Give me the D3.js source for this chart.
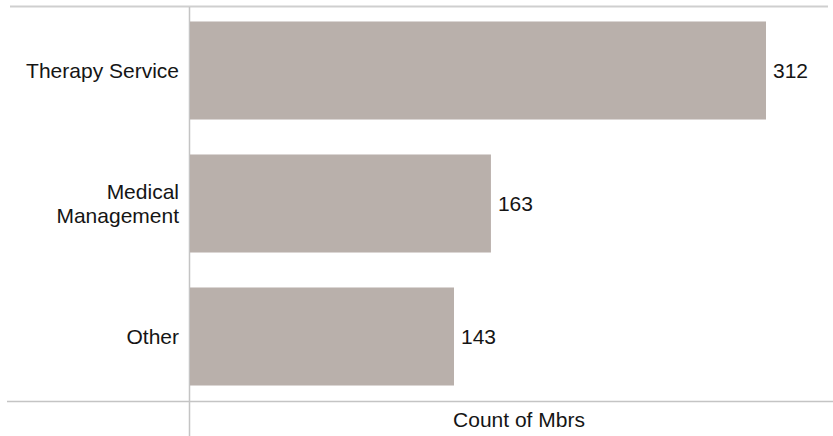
<!DOCTYPE html>
<html><head><meta charset="utf-8">
<script src="https://cdn.jsdelivr.net/npm/d3@7"></script>
<style>body{margin:0;background:#fff;} text{font-family:"Liberation Sans",Arial,sans-serif;}</style>
</head><body>
<script>
const categories = [["Therapy Service"], ["Medical", "Management"], ["Other"]];
const values = [312, 163, 143];
const axisTitle = "Count of Mbrs";

const W = 833, H = 436;
const svg = d3.select("body").append("svg").attr("width", W).attr("height", H);

const x0 = 190;
const x = d3.scaleLinear().domain([0, 312]).range([x0, 766]);
const y = d3.scaleBand().domain(d3.range(categories.length)).range([4, 403])
  .paddingInner(0.263).paddingOuter(0.1315);

// frame lines
svg.append("line").attr("x1", 10).attr("x2", 828).attr("y1", 6.5).attr("y2", 6.5)
  .attr("stroke", "#cfcfcf").attr("stroke-width", 2);
svg.append("line").attr("x1", 7).attr("x2", 833).attr("y1", 401.5).attr("y2", 401.5)
  .attr("stroke", "#c4c4c4").attr("stroke-width", 1.5);
svg.append("line").attr("x1", 189.5).attr("x2", 189.5).attr("y1", 7).attr("y2", 436)
  .attr("stroke", "#c4c4c4").attr("stroke-width", 1.5);

// bars
svg.selectAll("rect.bar").data(values).join("rect").attr("class", "bar")
  .attr("x", x(0)).attr("y", (d, i) => y(i))
  .attr("width", d => x(d) - x(0)).attr("height", y.bandwidth())
  .attr("fill", "#b9b0ab");

const fs = 21, fill = "#151515";

// value labels
svg.selectAll("text.val").data(values).join("text").attr("class", "val")
  .attr("x", d => x(d) + 7).attr("y", (d, i) => y(i) + y.bandwidth() / 2)
  .attr("dy", "0.35em").attr("font-size", fs).attr("fill", fill)
  .text(d => d);

// category labels
const lh = 24;
categories.forEach((lines, i) => {
  const cy = y(i) + y.bandwidth() / 2;
  const t = svg.append("text").attr("text-anchor", "end").attr("font-size", fs).attr("fill", fill);
  lines.forEach((ln, j) => {
    t.append("tspan").attr("x", 179)
      .attr("y", cy + (j - (lines.length - 1) / 2) * lh)
      .attr("dy", "0.35em").text(ln);
  });
});

// axis title
svg.append("text").attr("x", 519).attr("y", 427).attr("text-anchor", "middle")
  .attr("font-size", fs).attr("fill", fill).text(axisTitle);
</script>
</body></html>
